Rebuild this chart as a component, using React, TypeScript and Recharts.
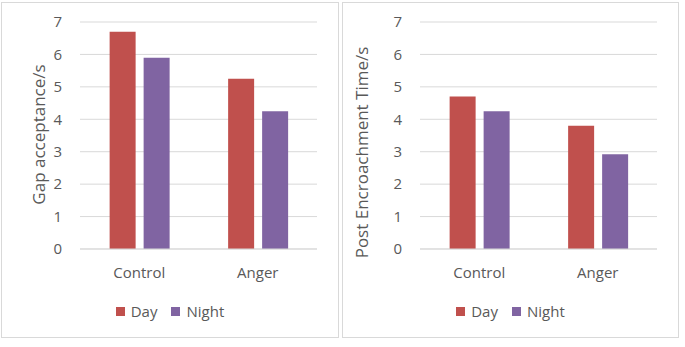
import { BarChart, Bar, XAxis, YAxis, CartesianGrid, Legend, Label } from "recharts";

const categories = ["Control", "Anger"];
const gapDay = [6.7, 5.25];
const gapNight = [5.9, 4.25];
const petDay = [4.7, 3.8];
const petNight = [4.25, 2.92];
const yTicks = [0, 1, 2, 3, 4, 5, 6, 7];

const DAY = "#C0504D";
const NIGHT = "#8064A2";
const TEXT = "#595959";
const FONT = "'Open Sans', sans-serif";

const gapData = categories.map((name, i) => ({ name, day: gapDay[i], night: gapNight[i] }));
const petData = categories.map((name, i) => ({ name, day: petDay[i], night: petNight[i] }));

function LegendBox(props: any) {
  const { payload } = props;
  return (
    <div style={{ display: "flex", justifyContent: "center", alignItems: "center", fontFamily: FONT, fontSize: 15, color: TEXT }}>
      {payload.map((p: any, i: number) => (
        <div key={i} style={{ display: "flex", alignItems: "center", marginRight: i === 0 ? 14 : 0 }}>
          <span style={{ width: 9, height: 9, background: p.color, display: "inline-block", marginRight: 6 }} />
          <span>{p.value}</span>
        </div>
      ))}
    </div>
  );
}

interface PanelProps {
  data: any[];
  title: string;
  width: number;
  height: number;
  yWidth: number;
  titleX: number;
  titleShift: number;
}

function Panel({ data, title, width, height, yWidth, titleX, titleShift }: PanelProps) {
  const tick = { fill: TEXT, fontSize: 15, fontFamily: FONT };
  return (
    <BarChart
      width={width}
      height={height}
      data={data}
      margin={{ top: 19, right: 21, left: 0, bottom: 48 }}
      barGap={8}
      barCategoryGap="25%"
    >
      <CartesianGrid vertical={false} stroke="#D9D9D9" />
      <XAxis
        dataKey="name"
        tick={tick}
        tickLine={false}
        axisLine={{ stroke: "#D9D9D9" }}
        tickSize={0}
        tickMargin={18}
        height={40}
      />
      <YAxis
        domain={[0, 7]}
        ticks={yTicks}
        tick={tick}
        tickLine={false}
        axisLine={false}
        tickSize={0}
        tickMargin={18}
        width={yWidth}
      >
        <Label
          content={(p: any) => {
            const vb = p.viewBox;
            const cx = titleX;
            const cy = vb.y + vb.height / 2 + titleShift;
            return (
              <text
                x={cx}
                y={cy}
                transform={`rotate(-90, ${cx}, ${cy})`}
                textAnchor="middle"
                dominantBaseline="central"
                fill={TEXT}
                fontSize={17}
                fontFamily={FONT}
              >
                {title}
              </text>
            );
          }}
        />
      </YAxis>
      <Legend
        verticalAlign="middle"
        wrapperStyle={{ top: 298, left: 0, width: width }}
        content={<LegendBox />}
      />
      <Bar dataKey="day" name="Day" fill={DAY} isAnimationActive={false} />
      <Bar dataKey="night" name="Night" fill={NIGHT} isAnimationActive={false} />
    </BarChart>
  );
}

export default function App() {
  return (
    <div style={{ position: "absolute", left: 0, top: 0, width: 685, height: 347, background: "#fff" }}>
      <div style={{ position: "absolute", left: 1, top: 2, width: 336, height: 334, border: "1px solid #D9D9D9" }}>
        <Panel data={gapData} title="Gap acceptance/s" width={336} height={334} yWidth={78} titleX={36} titleShift={-1} />
      </div>
      <div style={{ position: "absolute", left: 342, top: 2, width: 335, height: 334, border: "1px solid #D9D9D9" }}>
        <Panel data={petData} title="Post Encroachment Time/s" width={335} height={334} yWidth={77} titleX={18} titleShift={17} />
      </div>
    </div>
  );
}
